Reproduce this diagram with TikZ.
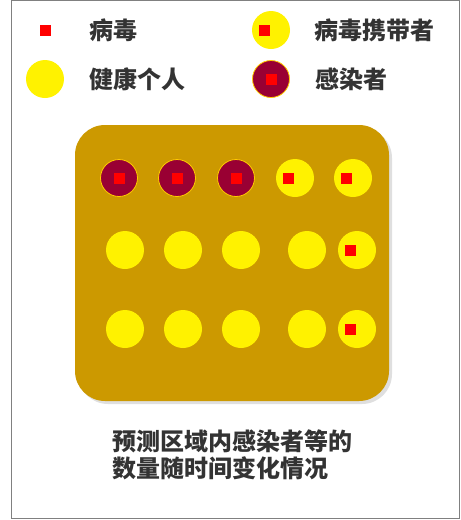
\documentclass[tikz,border=0pt]{standalone}
\usepackage{fontspec}
\newfontfamily\cjk{Noto Sans CJK SC Black}
\usetikzlibrary{shadows}
\definecolor{boxgold}{HTML}{CC9900}
\definecolor{infred}{HTML}{990033}
\definecolor{ringgold}{HTML}{FFCC00}
\definecolor{txtgray}{HTML}{333333}
\definecolor{frameg}{HTML}{808080}
\tikzset{
  person/.style={circle, fill=yellow, minimum size=38pt, inner sep=0pt},
  sick/.style={circle, fill=infred, draw=ringgold, line width=0.8pt, minimum size=37pt, inner sep=0pt},
  virus/.style={fill=red, minimum size=11pt, inner sep=0pt},
  legendtext/.style={anchor=west, inner sep=0pt, text=txtgray, font=\cjk\fontsize{24}{27}\selectfont},
}

\begin{document}
\begin{tikzpicture}[x=1pt, y=-1pt]
    \useasboundingbox (0,0) rectangle (461,520);
    \draw[frameg] (11.5,0.5) rectangle (459.5,518.5);
    % legend
    \node[virus] (virusmark) at (45,30) {};
    \node[legendtext] (virustext) at (89,30) {病毒};
    \node[person] (carriermark) at (271,30) {};
    \node[virus] (carriervirus) at (264.5,30) {};
    \node[legendtext] (carriertext) at (314,30) {病毒携带者};
    \node[person] (healthymark) at (45,79) {};
    \node[legendtext] (healthytext) at (89,79) {健康个人};
    \node[sick] (sickmark) at (271,79) {};
    \node[virus] (sickvirus) at (sickmark) {};
    \node[legendtext] (sicktext) at (315,79) {感染者};
    % region
    \node[fill=boxgold, rounded corners=30pt, minimum width=314pt, minimum height=276pt,
          drop shadow={shadow xshift=3pt, shadow yshift=-3pt, fill=black!25}] (region) at (232,263) {};
    \foreach \x [count=\i] in {119,177,236} {
        \node[sick] (sick\i) at (\x,178) {};
        \node[virus] (sickv\i) at (sick\i) {};
    }
    \foreach \x [count=\i] in {295,353} {
        \node[person] (carrier1\i) at (\x,178) {};
        \node[virus] (carrierv1\i) at (\x-6.5,178) {};
    }
    \foreach \y/\r in {250/2,329/3} {
        \foreach \x [count=\i] in {125,183,241,307}
            \node[person] (person\r\i) at (\x,\y) {};
        \node[person] (carrier\r) at (357,\y) {};
        \node[virus] (carrierv\r) at (350.5,\y) {};
    }
    % caption
    \node[legendtext, align=left] (caption) at (112,455) {预测区域内感染者等的\\数量随时间变化情况};
\end{tikzpicture}
\end{document}
